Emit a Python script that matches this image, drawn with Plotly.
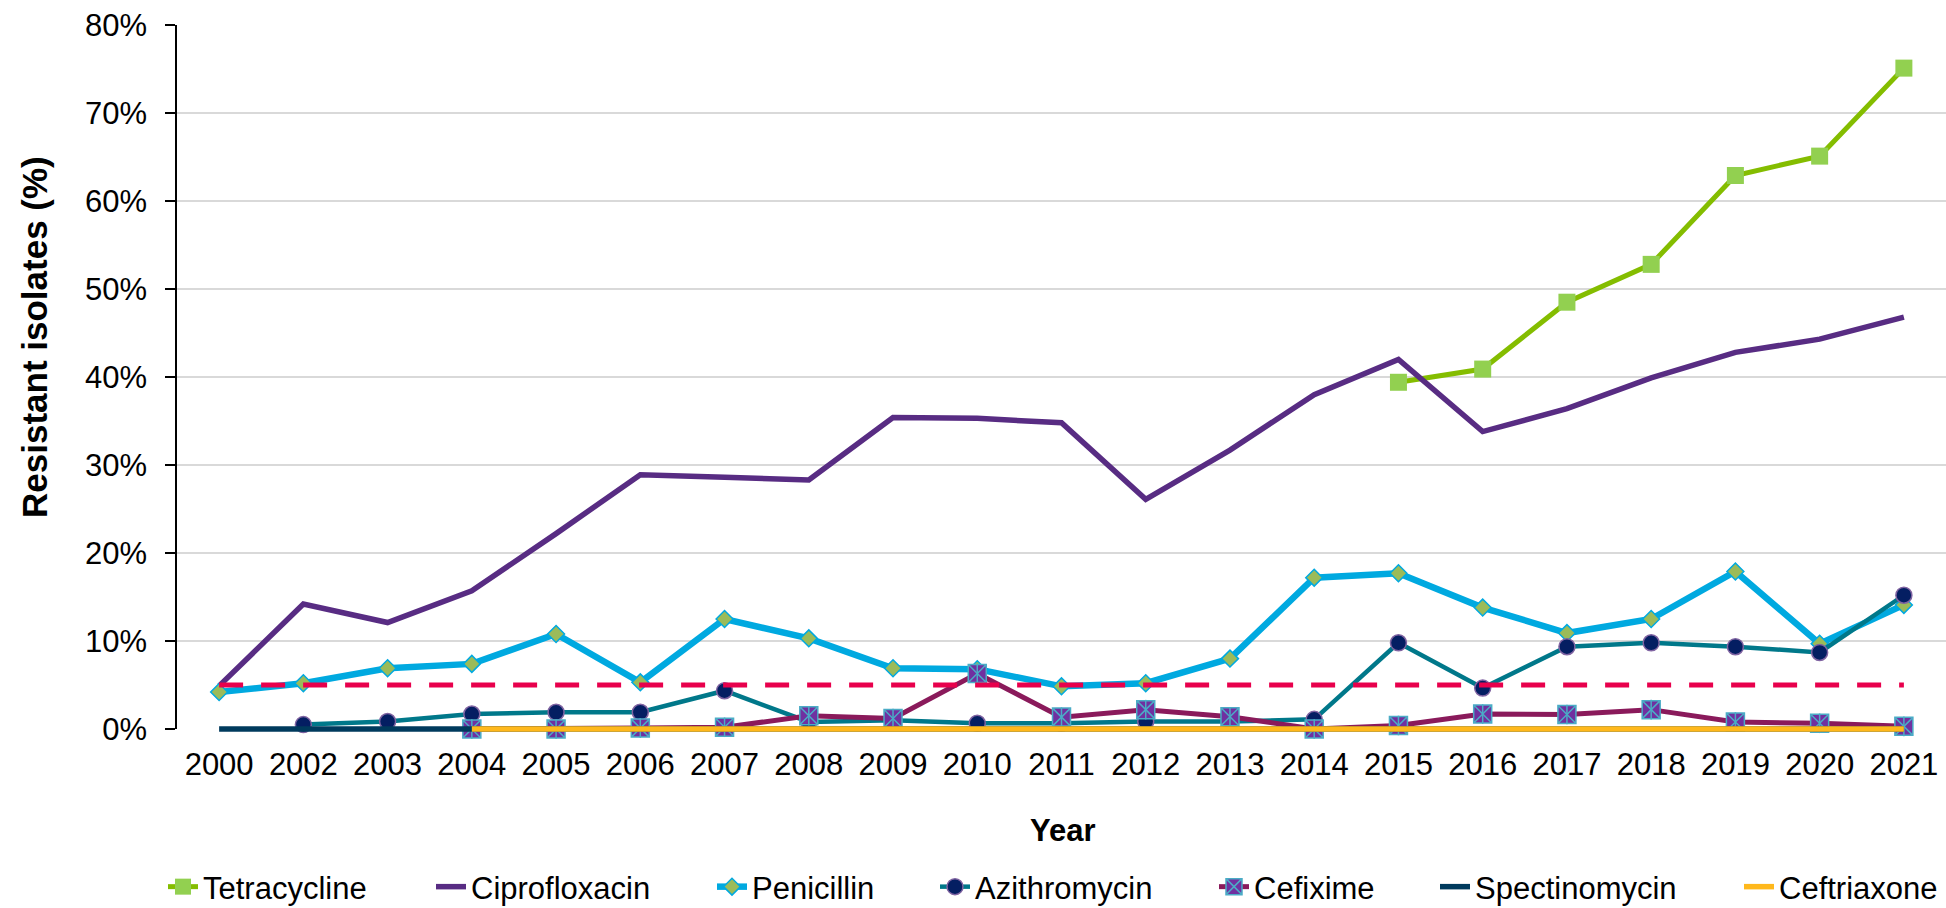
import plotly.graph_objects as go

# Surveillance years (2001 not reported)
years = ["2000", "2002", "2003", "2004", "2005", "2006", "2007", "2008", "2009", "2010",
         "2011", "2012", "2013", "2014", "2015", "2016", "2017", "2018", "2019", "2020", "2021"]

# Percentage of resistant isolates per antimicrobial
tetracycline = [None, None, None, None, None, None, None, None, None, None,
                None, None, None, None, 39.4, 40.9, 48.5, 52.8, 62.9, 65.1, 75.1]
ciprofloxacin = [4.9, 14.2, 12.1, 15.7, 22.2, 28.9, 28.6, 28.3, 35.4, 35.3,
                 34.8, 26.1, 31.7, 38.0, 42.0, 33.8, 36.4, 39.9, 42.8, 44.3, 46.8]
penicillin = [4.2, 5.2, 6.9, 7.4, 10.8, 5.3, 12.5, 10.3, 6.9, 6.8,
              4.85, 5.2, 8.0, 17.2, 17.7, 13.8, 10.9, 12.5, 17.9, 9.7, 14.1]
azithromycin = [None, 0.5, 0.85, 1.7, 1.9, 1.9, 4.35, 0.8, 1.0, 0.65,
                0.65, 0.85, 0.85, 1.1, 9.8, 4.65, 9.35, 9.8, 9.35, 8.7, 15.2]
cefixime = [None, None, None, 0.0, 0.0, 0.1, 0.2, 1.5, 1.2, 6.3,
            1.35, 2.2, 1.4, 0.0, 0.4, 1.7, 1.65, 2.2, 0.8, 0.65, 0.3]
spectinomycin = [0.0, 0.0, 0.0, 0.1, 0.0, 0.0, 0.0, 0.0, 0.0, 0.0,
                 0.0, 0.0, 0.0, 0.0, 0.0, 0.0, 0.0, 0.0, 0.0, 0.0, 0.0]
ceftriaxone = [None, None, None, 0.0, 0.0, 0.0, 0.0, 0.0, 0.0, 0.0,
               0.0, 0.0, 0.0, 0.0, 0.0, 0.0, 0.0, 0.0, 0.0, 0.0, 0.0]
# 5% resistance threshold
threshold = [5, 5, 5, 5, 5, 5, 5, 5, 5, 5, 5, 5, 5, 5, 5, 5, 5, 5, 5, 5, 5]

y_ticks = [0, 10, 20, 30, 40, 50, 60, 70, 80]
y_tick_text = ["0%", "10%", "20%", "30%", "40%", "50%", "60%", "70%", "80%"]
Y_MAX = 80

FONT = "Arial, 'Liberation Sans', Helvetica, sans-serif"
FS = 31
W, H = 1946, 908

# Outer plotting box; the visible value axis stops at ZERO_PX, while the
# data layer reaches a few pixels lower so lines sitting on 0% are not cut.
TOP_PX, ZERO_PX, BOTTOM_PX = 25, 729, 745
L_M, R_M = 177, 0
plot_w = W - L_M - R_M
plot_h = BOTTOM_PX - TOP_PX
d = (BOTTOM_PX - ZERO_PX) / plot_h
y2_min = -Y_MAX * d / (1 - d)


def px_to_paper_y(py):
    return (BOTTOM_PX - py) / plot_h


fig = go.Figure()

# empty trace that carries the visible axes (grid, ticks, labels)
fig.add_trace(go.Scatter(
    x=[years[0]], y=[None], mode="lines", showlegend=False, hoverinfo="skip",
    xaxis="x", yaxis="y"))

common = dict(xaxis="x", yaxis="y2", cliponaxis=False)

fig.add_trace(go.Scatter(
    x=years, y=tetracycline, name="Tetracycline", mode="lines+markers",
    line=dict(color="#84BD00", width=5),
    marker=dict(symbol="square", size=17, color="#92D050", line=dict(width=0)),
    legend="legend", **common))

fig.add_trace(go.Scatter(
    x=years, y=ciprofloxacin, name="Ciprofloxacin", mode="lines",
    line=dict(color="#582C83", width=5.5),
    legend="legend2", **common))

fig.add_trace(go.Scatter(
    x=years, y=penicillin, name="Penicillin", mode="lines+markers",
    line=dict(color="#00A9E0", width=6.5),
    marker=dict(symbol="diamond", size=13, color="#9BBB59",
                line=dict(color="#00A9E0", width=1.5)),
    legend="legend3", **common))

fig.add_trace(go.Scatter(
    x=years, y=azithromycin, name="Azithromycin", mode="lines+markers",
    line=dict(color="#00788A", width=4.5),
    marker=dict(symbol="circle", size=16, color="#041E62",
                line=dict(color="#8064A2", width=1.5)),
    legend="legend4", **common))

fig.add_trace(go.Scatter(
    x=years, y=cefixime, name="Cefixime", mode="lines+markers",
    line=dict(color="#8A1A5B", width=5),
    marker=dict(symbol="square-x", size=18, color="#7030A0",
                line=dict(color="#4BACC6", width=1.5)),
    legend="legend5", **common))

# vertical stroke completing the asterisk inside the Cefixime markers
fig.add_trace(go.Scatter(
    x=years, y=cefixime, mode="markers", showlegend=False, hoverinfo="skip",
    marker=dict(symbol="line-ns-open", size=14, color="#4BACC6",
                line=dict(color="#4BACC6", width=1.5)),
    **common))

fig.add_trace(go.Scatter(
    x=years, y=spectinomycin, name="Spectinomycin", mode="lines",
    line=dict(color="#003A5D", width=5.5),
    legend="legend6", **common))

fig.add_trace(go.Scatter(
    x=years, y=ceftriaxone, name="Ceftriaxone", mode="lines",
    line=dict(color="#FFB81C", width=5.5),
    legend="legend7", **common))

fig.add_trace(go.Scatter(
    x=years, y=threshold, mode="lines", showlegend=False, hoverinfo="skip",
    line=dict(color="#E8004C", width=5, dash="24px,18px"),
    **common))

# one legend box per entry so the spacing follows the text widths
text_starts = [203, 471, 752, 975, 1254, 1475, 1779]
legend_ids = ["legend", "legend2", "legend3", "legend4", "legend5", "legend6", "legend7"]
legends = {}
for lid, tx in zip(legend_ids, text_starts):
    legends[lid] = dict(
        orientation="h", xref="container", yref="container",
        x=(tx - 40) / W, xanchor="left", y=1 - 887 / H, yanchor="middle",
        font=dict(family=FONT, size=FS, color="#000000"),
        bgcolor="rgba(0,0,0,0)", borderwidth=0, itemwidth=30,
    )

fig.update_layout(
    width=W, height=H,
    margin=dict(l=L_M, r=R_M, t=TOP_PX, b=H - BOTTOM_PX),
    paper_bgcolor="white", plot_bgcolor="rgba(0,0,0,0)",
    font=dict(family=FONT, size=FS, color="#000000"),
    showlegend=True,
    **legends,
    xaxis=dict(
        type="category", categoryorder="array", categoryarray=years,
        range=[-0.5, len(years) - 0.5], anchor="y",
        showgrid=False, showline=False, zeroline=False, ticks="",
        tickfont=dict(family=FONT, size=FS, color="#000000"),
        ticklabelstandoff=14,
    ),
    yaxis=dict(
        domain=[d, 1], range=[0, Y_MAX], tickvals=y_ticks, ticktext=y_tick_text,
        showgrid=True, gridcolor="#D9D9D9", gridwidth=1.5,
        zeroline=False, showline=True, linecolor="#000000", linewidth=1.5,
        ticks="outside", ticklen=10, tickwidth=1.5, tickcolor="#000000",
        tickfont=dict(family=FONT, size=FS, color="#000000"),
        ticklabelstandoff=12, anchor="x",
    ),
    yaxis2=dict(
        domain=[0, 1], range=[y2_min, Y_MAX], visible=False,
        showgrid=False, zeroline=False, anchor="x",
    ),
    annotations=[
        dict(text="<b>Year</b>", xref="paper", yref="paper",
             x=(1063 - L_M) / plot_w, y=px_to_paper_y(830),
             xanchor="center", yanchor="middle", showarrow=False,
             font=dict(family=FONT, size=FS, color="#000000")),
        dict(text="<b>Resistant isolates (%)</b>", xref="paper", yref="paper",
             x=(34 - L_M) / plot_w, y=px_to_paper_y(337), textangle=-90,
             xanchor="center", yanchor="middle", showarrow=False,
             font=dict(family=FONT, size=35, color="#000000")),
    ],
)

fig.write_html("out.html")
